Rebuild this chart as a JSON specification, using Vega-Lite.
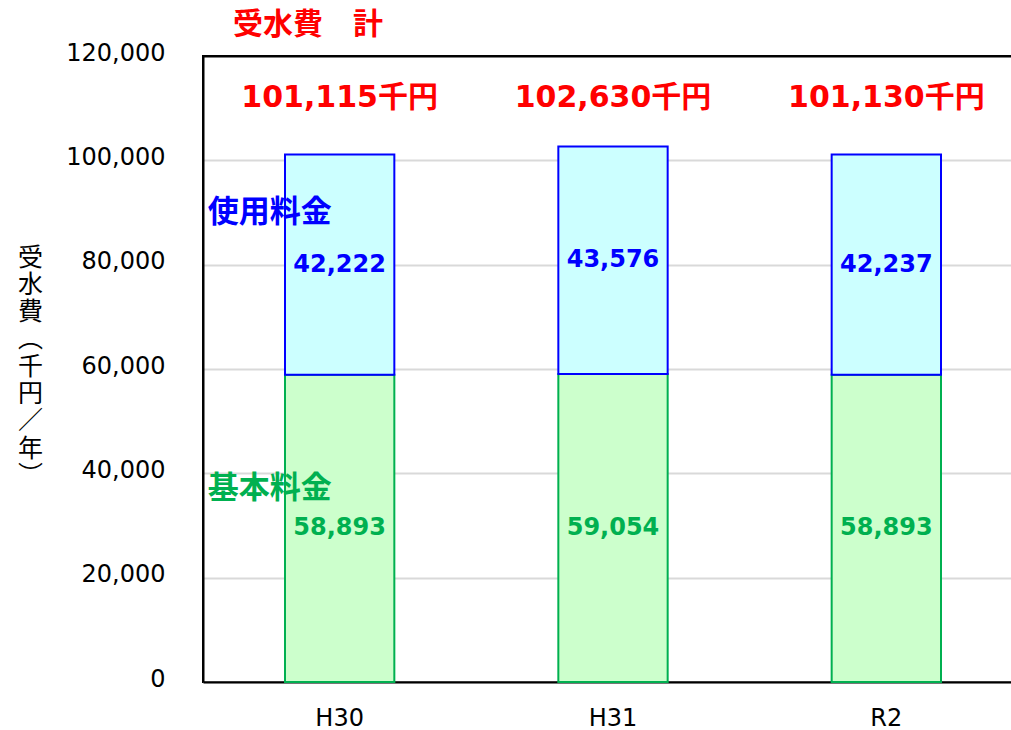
{
  "$schema": "https://vega.github.io/schema/vega-lite/v6.json",
  "width": 820,
  "height": 626,
  "autosize": "none",
  "padding": {"left": 203, "top": 56, "right": 0, "bottom": 48},
  "background": "white",
  "config": {
    "font": "DejaVu Sans, Noto Sans CJK JP",
    "view": {"stroke": "black", "strokeWidth": 2},
    "locale": {"number": {"decimal": ".", "thousands": ",", "grouping": [3], "currency": ["", "千円"]}}
  },
  "title": {
    "text": "受水費　計",
    "anchor": "start",
    "frame": "group",
    "dx": 30,
    "dy": 34,
    "fontSize": 30,
    "fontWeight": "bold",
    "color": "#FF0000",
    "font": "Noto Sans CJK JP",
    "baseline": "middle",
    "offset": 20
  },
  "data": {
    "values": [
      {"year": "H30", "series": "基本料金", "order": 1, "value": 58893},
      {"year": "H30", "series": "使用料金", "order": 2, "value": 42222},
      {"year": "H31", "series": "基本料金", "order": 1, "value": 59054},
      {"year": "H31", "series": "使用料金", "order": 2, "value": 43576},
      {"year": "R2", "series": "基本料金", "order": 1, "value": 58893},
      {"year": "R2", "series": "使用料金", "order": 2, "value": 42237}
    ]
  },
  "encoding": {
    "x": {
      "field": "year",
      "type": "nominal",
      "sort": ["H30", "H31", "R2"],
      "scale": {"paddingInner": 0.6, "paddingOuter": 0.3},
      "axis": {
        "title": null,
        "labelAngle": 0,
        "labelFontSize": 24,
        "labelColor": "black",
        "labelFont": "DejaVu Sans",
        "labelPadding": 24,
        "ticks": false,
        "tickSize": 0,
        "domainColor": "black",
        "domainWidth": 2
      }
    }
  },
  "layer": [
    {
      "mark": {"type": "bar", "strokeWidth": 2},
      "encoding": {
        "y": {
          "field": "value",
          "type": "quantitative",
          "stack": "zero",
          "scale": {"domain": [0, 120000], "nice": false},
          "axis": {
            "values": [0, 20000, 40000, 60000, 80000, 100000, 120000],
            "labelExpr": "format(datum.value, ',')",
            "labelFontSize": 24,
            "labelColor": "black",
            "labelFont": "DejaVu Sans",
            "labelPadding": 38,
            "labelOffset": -3,
            "ticks": false,
            "tickSize": 0,
            "gridColor": {"condition": {"test": "datum.value >= 120000", "value": "black"}, "value": "#D9D9D9"},
            "gridWidth": 2,
            "domainColor": "black",
            "domainWidth": 2,
            "title": ["受", "水", "費", "︵", "千", "円", "／", "年", "︶"],
            "titleAngle": 0,
            "titleFont": "Noto Sans CJK JP",
            "titleFontSize": 25,
            "titleFontWeight": "normal",
            "titleColor": "black",
            "titleX": -173,
            "titleY": 189,
            "titleBaseline": "top",
            "titleAlign": "center",
            "titleLineHeight": 27.3
          }
        },
        "order": {"field": "order", "type": "quantitative"},
        "fill": {
          "field": "series",
          "type": "nominal",
          "scale": {"domain": ["基本料金", "使用料金"], "range": ["#CCFFCC", "#CCFFFF"]},
          "legend": null
        },
        "stroke": {
          "field": "series",
          "type": "nominal",
          "scale": {"domain": ["基本料金", "使用料金"], "range": ["#00B050", "#0000FF"]},
          "legend": null
        }
      }
    },
    {
      "transform": [
        {"stack": "value", "groupby": ["year"], "sort": [{"field": "order"}], "as": ["y0", "y1"]},
        {"fold": ["y0", "y1"], "as": ["k", "pos"]}
      ],
      "mark": {"type": "text", "fontSize": 24, "fontWeight": "bold", "font": "DejaVu Sans", "baseline": "middle"},
      "encoding": {
        "y": {"aggregate": "mean", "field": "pos", "type": "quantitative", "stack": null},
        "text": {"field": "value", "type": "quantitative", "format": ","},
        "color": {
          "field": "series",
          "type": "nominal",
          "scale": {"domain": ["基本料金", "使用料金"], "range": ["#00B050", "#0000FF"]},
          "legend": null
        }
      }
    },
    {
      "transform": [
        {"aggregate": [{"op": "sum", "field": "value", "as": "total"}], "groupby": ["year"]}
      ],
      "mark": {"type": "text", "fontSize": 30, "fontWeight": "bold", "color": "#FF0000", "baseline": "middle"},
      "encoding": {
        "y": {"datum": 112000, "type": "quantitative"},
        "text": {"field": "total", "type": "quantitative", "format": "$,"}
      }
    },
    {
      "transform": [{"filter": "datum.year == 'H30' && datum.series == '使用料金'"}],
      "mark": {"type": "text", "fontSize": 31, "fontWeight": "bold", "font": "Noto Sans CJK JP", "align": "left", "baseline": "middle", "dx": -132},
      "encoding": {
        "y": {"datum": 90000, "type": "quantitative"},
        "text": {"field": "series", "type": "nominal"},
        "color": {"field": "series", "type": "nominal", "legend": null}
      }
    },
    {
      "transform": [{"filter": "datum.year == 'H30' && datum.series == '基本料金'"}],
      "mark": {"type": "text", "fontSize": 31, "fontWeight": "bold", "font": "Noto Sans CJK JP", "align": "left", "baseline": "middle", "dx": -132},
      "encoding": {
        "y": {"datum": 37000, "type": "quantitative"},
        "text": {"field": "series", "type": "nominal"},
        "color": {"field": "series", "type": "nominal", "legend": null}
      }
    }
  ]
}
